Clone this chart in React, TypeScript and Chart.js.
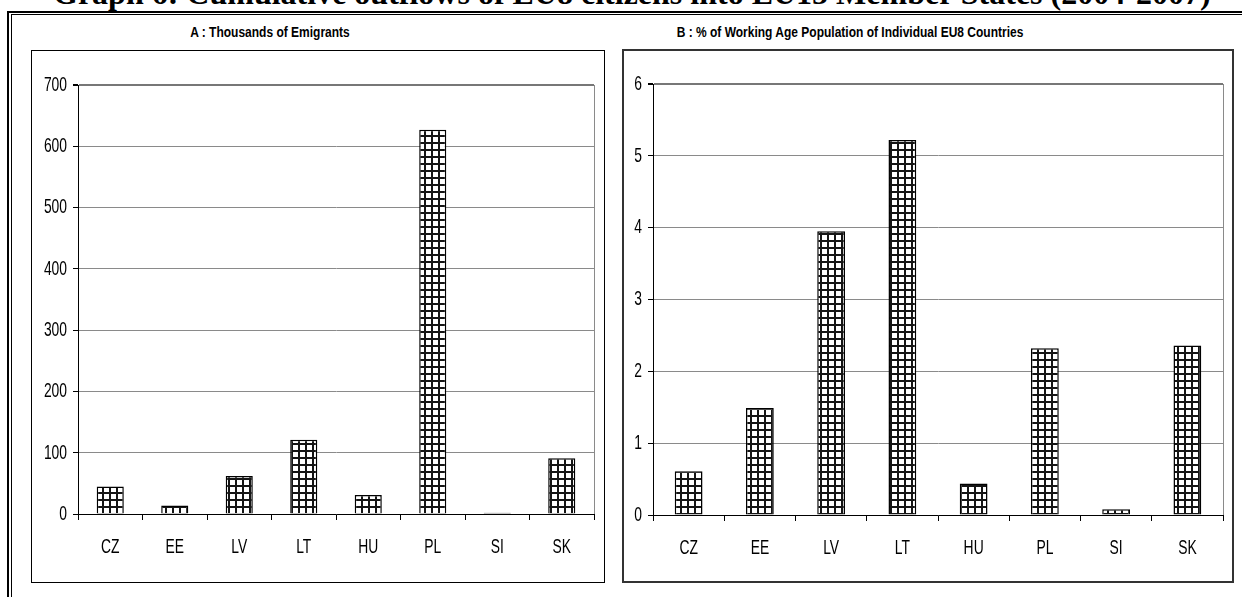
import React, { useEffect, useRef } from 'react';
import { Chart, registerables } from 'chart.js';

Chart.register(...registerables);

// ---- data ----
const countries = ['CZ', 'EE', 'LV', 'LT', 'HU', 'PL', 'SI', 'SK'];
const emigrantsThousands = [45, 14, 62, 121, 31, 627, 2, 91];
const pctWorkingAge = [0.61, 1.49, 3.95, 5.22, 0.44, 2.32, 0.08, 2.36];
const axisAMax = 700;
const axisAStep = 100;
const axisBMax = 6;
const axisBStep = 1;
const mainTitle = 'Graph 6: Cumulative outflows of EU8 citizens into EU15 Member States (2004-2007)';
const titleA = 'A : Thousands of Emigrants';
const titleB = 'B : % of Working Age Population of Individual EU8 Countries';

const SANS = "'Liberation Sans', Arial, sans-serif";
const CONDENSE = 0.66;

function makePattern(ctx: CanvasRenderingContext2D) {
  const c = document.createElement('canvas');
  c.width = 7;
  c.height = 7;
  const p = c.getContext('2d')!;
  p.fillStyle = '#ffffff';
  p.fillRect(0, 0, 7, 7);
  p.fillStyle = '#151515';
  p.fillRect(0, 0, 7, 2);
  p.fillRect(0, 0, 2, 7);
  return ctx.createPattern(c, 'repeat');
}

// draws the axis tick labels in a condensed face (horizontally scaled)
const condensedLabels = {
  id: 'condensedLabels',
  afterDraw(chart: any) {
    const ctx: CanvasRenderingContext2D = chart.ctx;
    const xs = chart.scales.x;
    const ys = chart.scales.y;
    ctx.save();
    ctx.fillStyle = '#000000';
    ctx.font = `21px ${SANS}`;
    // y labels
    ctx.textAlign = 'right';
    ctx.textBaseline = 'middle';
    const yRight = chart.chartArea.left - 11;
    ys.ticks.forEach((t: any, i: number) => {
      const py = ys.getPixelForTick(i);
      const label = String(t.label);
      ctx.save();
      ctx.translate(yRight, py);
      ctx.scale(CONDENSE, 1);
      ctx.fillText(label, 0, 0);
      ctx.restore();
    });
    // x labels
    ctx.textAlign = 'center';
    const xY = chart.chartArea.bottom + 33;
    xs.ticks.forEach((t: any, i: number) => {
      const px = xs.getPixelForTick(i);
      const label = String(t.label);
      ctx.save();
      ctx.translate(px, xY);
      ctx.scale(CONDENSE, 1);
      ctx.fillText(label, 0, 0);
      ctx.restore();
    });
    ctx.restore();
  },
};

type PanelProps = {
  values: number[];
  max: number;
  step: number;
  yWidth: number;
  xHeight: number;
  padTop: number;
  padRight: number;
  barPct: number;
  width: number;
  height: number;
};

function BarPanel(props: PanelProps) {
  const ref = useRef<HTMLCanvasElement>(null);
  useEffect(() => {
    const canvas = ref.current!;
    const ctx = canvas.getContext('2d')!;
    const pattern = makePattern(ctx);
    const chart = new Chart(ctx, {
      type: 'bar',
      data: {
        labels: countries,
        datasets: [
          {
            data: props.values,
            backgroundColor: pattern as any,
            borderColor: '#000000',
            borderWidth: 1.5,
            barPercentage: props.barPct,
            categoryPercentage: 1,
          },
        ],
      },
      options: {
        animation: false,
        responsive: false,
        maintainAspectRatio: false,
        devicePixelRatio: 1,
        layout: { padding: { top: props.padTop, right: props.padRight, left: 0, bottom: 0 } },
        plugins: {
          legend: { display: false },
          tooltip: { enabled: false },
          title: { display: false },
        },
        scales: {
          x: {
            offset: true,
            grid: {
              offset: true,
              drawOnChartArea: true,
              color: (c: any) => (c.type === 'scale' ? '#8a8a8a' : 'rgba(0,0,0,0)'),
              tickColor: '#000000',
              tickLength: 6,
              lineWidth: 1,
            },
            border: { color: '#000000', width: 1 },
            ticks: { display: false, autoSkip: false, maxRotation: 0 },
            afterFit: (s: any) => {
              s.height = props.xHeight;
            },
          },
          y: {
            min: 0,
            max: props.max,
            ticks: { stepSize: props.step, display: false },
            grid: {
              color: (c: any) => (c.tick && c.tick.value === props.max ? '#777777' : '#8a8a8a'),
              lineWidth: (c: any) => (c.tick && c.tick.value === props.max ? 2 : 1),
              tickColor: '#000000',
              tickLength: 5,
            },
            border: { color: '#000000', width: 1 },
            afterFit: (s: any) => {
              s.width = props.yWidth;
            },
          },
        },
      },
      plugins: [condensedLabels],
    });
    return () => chart.destroy();
  }, []);
  return <canvas ref={ref} width={props.width} height={props.height} style={{ display: 'block', width: props.width, height: props.height }} />;
}

export default function App() {
  const abs = (l: number, t: number, w: number, h: number): React.CSSProperties => ({
    position: 'absolute',
    left: l,
    top: t,
    width: w,
    height: h,
    boxSizing: 'border-box',
  });
  const panelTitle = (center: number): React.CSSProperties => ({
    position: 'absolute',
    left: center - 300,
    width: 600,
    top: 24,
    height: 15,
    lineHeight: '15px',
    fontFamily: SANS,
    fontWeight: 'bold',
    fontSize: 15,
    color: '#000',
    textAlign: 'center',
    whiteSpace: 'nowrap',
    transform: 'scaleX(0.8)',
    transformOrigin: `300px 0`,
  });
  return (
    <div style={{ position: 'absolute', left: 0, top: 0, width: 1242, height: 597, overflow: 'hidden', background: '#ffffff' }}>
      <div
        style={{
          position: 'absolute',
          left: 53,
          top: -23,
          lineHeight: '32px',
          fontFamily: "'Liberation Serif', 'Times New Roman', serif",
          fontWeight: 'bold',
          fontSize: 32,
          whiteSpace: 'nowrap',
          color: '#000',
        }}
      >
        {mainTitle}
      </div>
      {/* outer double frame */}
      <div style={{ ...abs(7, 11, 1400, 800), borderLeft: '2px solid #000', borderTop: '2px solid #000' }} />
      <div style={{ ...abs(11, 14, 1400, 800), borderLeft: '1px solid #000', borderTop: '1px solid #000' }} />
      {/* panel borders */}
      <div style={{ ...abs(31, 50, 574, 533), border: '1px solid #000' }} />
      <div style={{ ...abs(622, 49, 612, 534), border: '2px solid #333' }} />
      <div style={panelTitle(270)}>{titleA}</div>
      <div style={panelTitle(850)}>{titleB}</div>
      <div style={{ position: 'absolute', left: 32, top: 51 }}>
        <BarPanel
          values={emigrantsThousands}
          max={axisAMax}
          step={axisAStep}
          yWidth={46}
          xHeight={67}
          padTop={34}
          padRight={10}
          barPct={0.42}
          width={572}
          height={530}
        />
      </div>
      <div style={{ position: 'absolute', left: 624, top: 51 }}>
        <BarPanel
          values={pctWorkingAge}
          max={axisBMax}
          step={axisBStep}
          yWidth={29}
          xHeight={65}
          padTop={33}
          padRight={9}
          barPct={0.39}
          width={608}
          height={529}
        />
      </div>
    </div>
  );
}
